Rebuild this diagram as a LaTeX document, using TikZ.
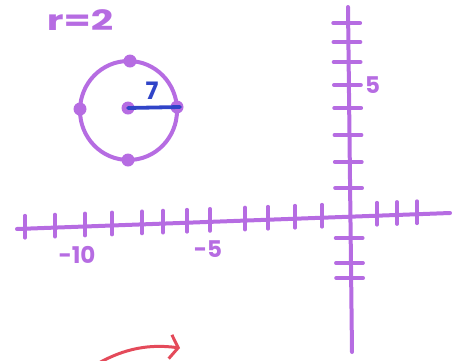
\documentclass[tikz,border=0pt]{standalone}
\usepackage{fontspec}
\setmainfont{Poppins}
\usepackage{tikz}
\usetikzlibrary{positioning,arrows.meta,calc}
\definecolor{marker}{RGB}{182,108,226}
\definecolor{penblue}{RGB}{48,68,200}
\definecolor{penred}{RGB}{228,74,90}

\begin{document}
\begin{tikzpicture}[
    x=1pt, y=-1pt,
    axis/.style={draw=marker, line width=4pt, line cap=round},
    tick/.style={draw=marker, line width=3.8pt, line cap=round},
    dot/.style={circle, fill=marker, inner sep=0pt, minimum size=13pt},
    lbl/.style={text=marker, font=\fontsize{23}{23}\selectfont\bfseries, inner sep=0pt}
]
\useasboundingbox (0,0) rectangle (461,360);

% axes
\coordinate (xl) at (17,229);
\coordinate (xr) at (450,213);
\coordinate (yt) at (348,7);
\coordinate (yb) at (352,352);
\draw[axis] (xl) -- (xr);
\draw[axis] (yt) -- (yb);

% ticks
\foreach \x in {25,55,85,112,142,163,187,210,245,268,295,322,377,397,417} {
  \coordinate (tx\x) at ($(xl)!{(\x-17)/433}!(xr)$);
  \draw[tick] (tx\x) ++(0,-13) -- ++(0,22);
}
\foreach \y in {23,42,62,85,108,135,162,188,238,263,278} {
  \coordinate (ty\y) at ($(yt)!{(\y-7)/345}!(yb)$);
  \draw[tick] (ty\y) ++(-15,0) -- ++(27,0);
}

\node[lbl, below=20pt of tx85, xshift=-8pt] (m10) {-10};
\node[lbl, below=19pt of tx210, xshift=-2pt] (m5) {-5};
\node[lbl, right=16pt of ty85] (p5) {5};

% circle
\draw[axis] (128.5,110.5) ellipse [x radius=48.5pt, y radius=49.5pt];
\node[dot] (top) at (130,61) {};
\node[dot] (lft) at (80,109) {};
\node[dot] (rgt) at (177,107) {};
\node[dot] (bot) at (128,160) {};
\node[dot] (ctr) at (128,108) {};
\draw[draw=penblue, line width=3.8pt, line cap=round] (ctr.center) -- ($(rgt.center)+(3,0)$);
\node[lbl, text=penblue, font=\fontsize{24}{24}\selectfont\bfseries] (rad) at (152,91) {7};

\node[lbl, font=\fontsize{28}{28}\selectfont\bfseries, xscale=1.4, transform shape] (rlbl) at (80,20) {r=2};

% red arrow
\coordinate (astart) at (97,364);
\coordinate (atip) at (180,348);
\draw[penred, line width=3pt, line cap=round,
      -{Straight Barb[length=8pt, width=24pt, line width=3pt]}]
  (astart) .. controls (125,348) and (150,344) .. (atip);
\end{tikzpicture}
\end{document}
